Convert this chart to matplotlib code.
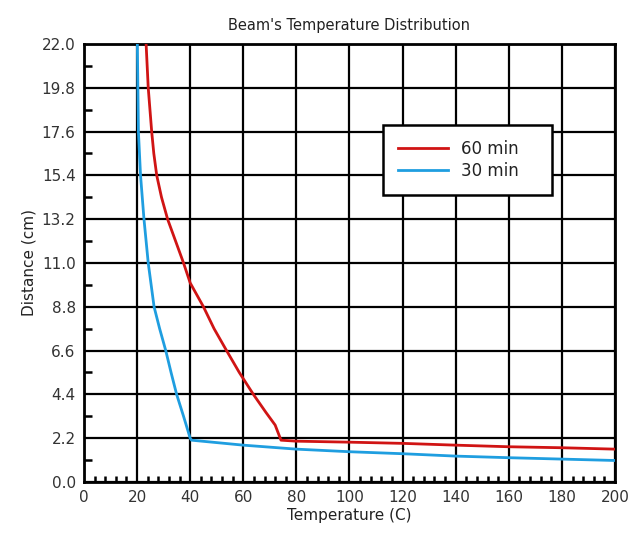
import numpy as np
import matplotlib.pyplot as plt
from matplotlib.ticker import MultipleLocator

# Данные
temp_60 = [23.4, 24.2, 25.5, 26.3, 27.4, 29.2, 31.5, 34.5, 37.5, 40.0, 45.0, 49.0, 53.7, 58.5,
           63.8, 68.5, 72.0, 74.2, 80, 100, 120, 140, 160, 180, 200]
dist_60 = [22.0, 19.8, 17.6, 16.5, 15.4, 14.3, 13.2, 12.1, 11.0, 10.0, 8.8, 7.7, 6.6, 5.5,
           4.4, 3.5, 2.86, 2.1, 2.05, 2.0, 1.94, 1.85, 1.77, 1.72, 1.65]

temp_30 = [20.1, 20.3, 20.5, 21.3, 22.6, 24.2, 26.4, 28.5, 30.8, 32.8, 34.9, 37.5, 40.0, 40.5,
           60, 80, 100, 120, 140, 160, 180, 200]
dist_30 = [22.0, 19.8, 17.6, 15.4, 13.2, 11.0, 8.8, 7.7, 6.6, 5.5, 4.4, 3.3, 2.2, 2.1,
           1.85, 1.65, 1.52, 1.42, 1.3, 1.22, 1.15, 1.08]

x_ticks = np.arange(0, 201, 20)
y_ticks = np.round(np.arange(0, 22.01, 2.2), 1)

fig = plt.figure(figsize=(6.3, 5.34), dpi=100)
ax = fig.add_axes([0.1333, 0.0974, 0.8429, 0.8202])

ax.plot(temp_60, dist_60, color='#d01414', lw=2.0, label='60 min', zorder=3)
ax.plot(temp_30, dist_30, color='#1f9ee0', lw=2.0, label='30 min', zorder=3)

ax.set_xlim(0, 200)
ax.set_ylim(0, 22)
ax.set_xticks(x_ticks)
ax.set_yticks(y_ticks)
ax.set_yticklabels([f'{v:.1f}' for v in y_ticks])
ax.xaxis.set_minor_locator(MultipleLocator(4))
ax.yaxis.set_minor_locator(MultipleLocator(1.1))
ax.tick_params(which='major', length=0, pad=6, labelsize=11, labelcolor='#333333')
ax.tick_params(which='minor', direction='in', width=1.8, color='black')
ax.tick_params(axis='x', which='minor', length=4)
ax.tick_params(axis='y', which='minor', length=6)
ax.grid(True, which='major', color='black', lw=1.6)
for s in ax.spines.values():
    s.set_linewidth(2)

ax.set_title("Beam's Temperature Distribution", fontsize=10.5, color='#222222', pad=10)
ax.set_xlabel('Temperature (C)', fontsize=11, color='#222222', labelpad=2)
ax.set_ylabel('Distance (cm)', fontsize=11, color='#222222', labelpad=4)

leg = ax.legend(loc='upper left', bbox_to_anchor=(0.563, 0.815, 0.318, 0.0), mode='expand',
                fontsize=12, fancybox=False, framealpha=1, edgecolor='black',
                handlelength=3.0, borderpad=0.9, labelspacing=0.25, borderaxespad=0)
leg.get_frame().set_linewidth(1.8)
for t in leg.get_texts():
    t.set_color('#222222')

plt.savefig('out.png', dpi=100)
